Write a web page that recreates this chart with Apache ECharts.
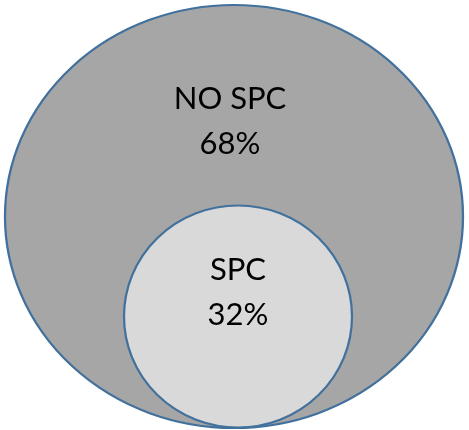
<!DOCTYPE html>
<html>
<head>
<meta charset="utf-8">
<script src="https://cdn.jsdelivr.net/npm/echarts@6/dist/echarts.min.js"></script>
<style>
html,body{margin:0;padding:0;background:#fff;}
#chart{width:469px;height:430px;}
</style>
</head>
<body>
<div id="chart"></div>
<script>
// Data
const categories = ['NO SPC', 'SPC'];
const percentages = [68, 32];

// Layout (not data)
const centers = [[234, 216.5], [238, 316.5]];
const sizes = [[458, 423], [228, 222]];
const fills = ['#a6a6a6', '#d9d9d9'];
const labelOffsets = [[-4, -95], [0, -24]];

const chart = echarts.init(document.getElementById('chart'));
const option = {
  animation: false,
  grid: {left: 0, right: 0, top: 0, bottom: 0},
  xAxis: {type: 'value', min: 0, max: 469, show: false},
  yAxis: {type: 'value', min: 0, max: 430, inverse: true, show: false},
  series: categories.map((name, i) => ({
    type: 'scatter',
    z: 2 + i,
    symbol: 'circle',
    symbolSize: sizes[i],
    itemStyle: {color: fills[i], borderColor: '#41719c', borderWidth: 2.2, opacity: 1},
    label: {
      show: true,
      position: 'inside',
      offset: labelOffsets[i],
      formatter: p => p.name + '\n' + percentages[i] + '%',
      fontFamily: 'Lato, "Open Sans", sans-serif',
      fontSize: 31,
      lineHeight: 45,
      color: '#000'
    },
    emphasis: {disabled: true},
    data: [{name: name, value: centers[i]}]
  }))
};
chart.setOption(option);
</script>
</body>
</html>
